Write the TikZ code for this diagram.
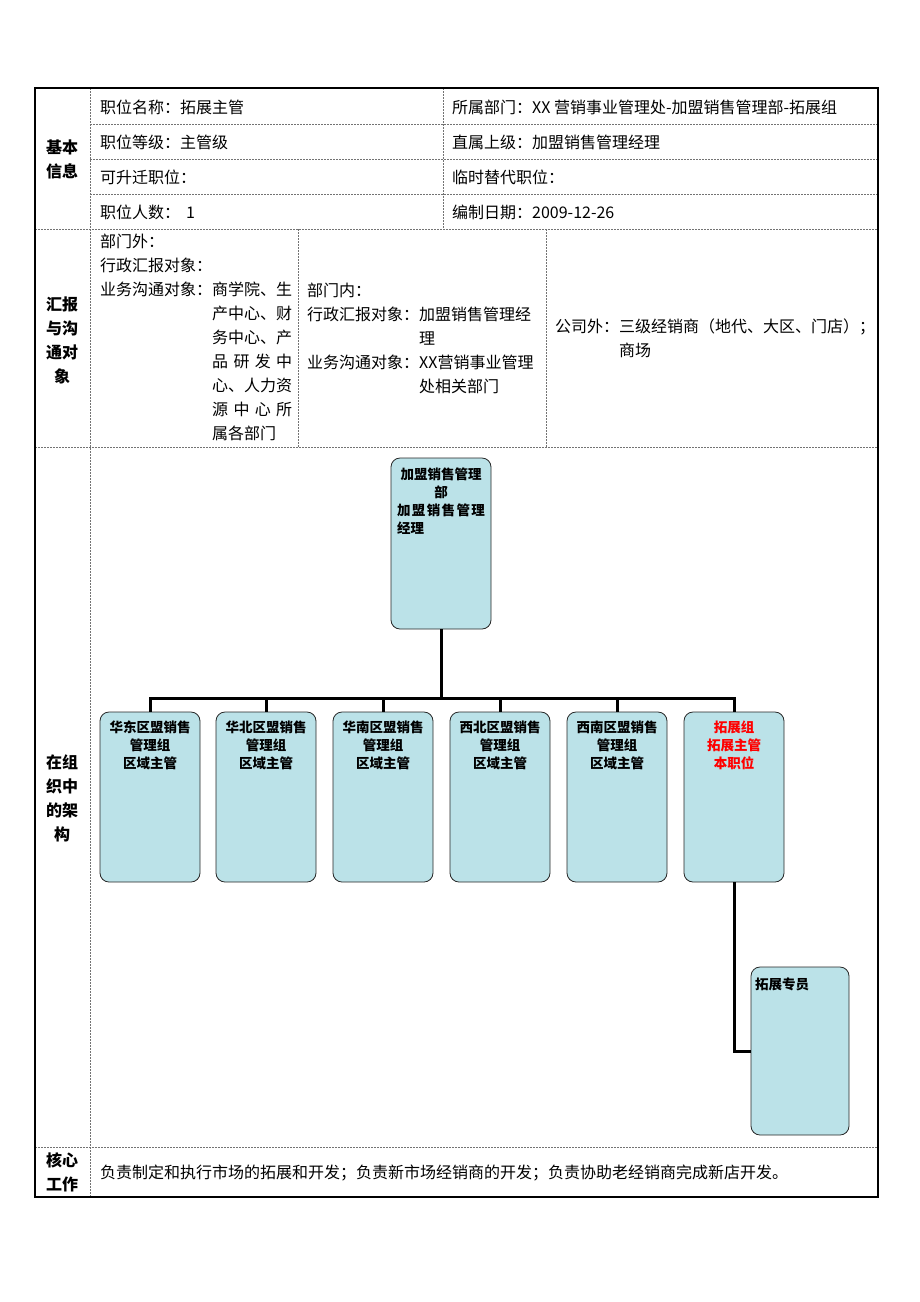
\documentclass[tikz,border=0pt]{standalone}
\usepackage{fontspec}
\setmainfont{Noto Sans CJK SC}
\usetikzlibrary{positioning,calc}
\definecolor{boxblue}{RGB}{187,226,232}

\begin{document}
\begin{tikzpicture}[x=1pt, y=-1pt,
	grid/.style = {black!55, line width=0.6pt, dash pattern=on 2pt off 1pt},
	txt/.style = {inner sep=0pt, anchor=west, font=\fontsize{16}{24}\selectfont},
	para/.style = {inner sep=0pt, anchor=north west, align=left, font=\fontsize{16}{24}\selectfont},
	head/.style = {inner sep=0pt, align=center, font=\fontsize{16}{24}\selectfont\bfseries},
	box/.style = {draw=black!85, line width=0.8pt, fill=boxblue, rounded corners=9pt,
		minimum width=100pt, minimum height=170pt, inner sep=0pt},
	boxtxt/.style = {inner sep=0pt, anchor=north, align=center, font=\fontsize{13.5}{18}\selectfont\bfseries},
	conn/.style = {line width=3pt}
]
\useasboundingbox (0,0) rectangle (920,1302);

% table
\foreach \y in {124,159,194} \draw [grid] (90,\y) -- (878,\y);
\foreach \y in {229,447,1147} \draw [grid] (35,\y) -- (878,\y);
\draw [grid] (90,88) -- (90,1197);
\draw [grid] (443,88) -- (443,229);
\draw [grid] (298,229) -- (298,447);
\draw [grid] (546,229) -- (546,447);
\draw [line width=2.5pt] (35,88) rectangle (878,1197);

% basic info
\node [head] (jiben) at (62,159) {基本\\信息};
\node [txt] (mingcheng) at (100,107) {职位名称：拓展主管};
\node [txt] (dengji) at (100,142) {职位等级：主管级};
\node [txt] (shengqian) at (100,177) {可升迁职位：};
\node [txt] (renshu) at (100,212) {职位人数：\hspace{6pt}1};
\node [txt] (bumen) at (452,107) {所属部门：XX 营销事业管理处-加盟销售管理部-拓展组};
\node [txt] (shangji) at (452,142) {直属上级：加盟销售管理经理};
\node [txt] (tidai) at (452,177) {临时替代职位：};
\node [txt] (riqi) at (452,212) {编制日期：2009-12-26};

% reporting
\node [head] (huibao) at (62,340) {汇报\\与沟\\通对\\象};
\node [para] (waibu) at (100,234) {部门外：\\行政汇报对象：\\业务沟通对象：商学院、生\\
	\hspace*{7em}产中心、财\\\hspace*{7em}务中心、产\\
	\hspace*{7em}\makebox[5em][s]{品\hfil 研\hfil 发\hfil 中}\\\hspace*{7em}心、人力资\\
	\hspace*{7em}\makebox[5em][s]{源\hfil 中\hfil 心\hfil 所}\\\hspace*{7em}属各部门};
\node [para] (neibu) at (307,283) {部门内：\\行政汇报对象：加盟销售管理经\\\hspace*{7em}理\\
	业务沟通对象：XX营销事业管理\\\hspace*{7em}处相关部门};
\node [para] (gongsi) at (555,319) {公司外：三级经销商（地代、大区、门店）；\\\hspace*{4em}商场};

% organisation
\node [head] (jiagou) at (62,798) {在组\\织中\\的架\\构};
\begin{scope}
	\node [box, minimum height=171pt] (top) at (441,543.5) {};
	\node [boxtxt] (top-t) at (441,468) {加盟销售管理\\部\\
		\makebox[88pt][s]{加\hfil 盟\hfil 销\hfil 售\hfil 管\hfil 理}\\\makebox[88pt][l]{经理}};

	\foreach \n/\x/\reg in {b1/150/华东, b2/266/华北, b3/383/华南, b4/500/西北, b5/617/西南} {
		\node [box] (\n) at (\x,797) {};
		\node [boxtxt] (\n-t) at (\x,721) {\reg 区盟销售\\管理组\\区域主管};
	}
	\node [box] (b6) at (734,797) {};
	\node [boxtxt, text=red] (b6-t) at (734,721) {拓展组\\拓展主管\\本职位};
	\node [box, minimum width=98pt, minimum height=168pt] (b7) at (800,1051) {};
	\node [boxtxt, anchor=west] (b7-t) at (755,984) {拓展专员};

	\coordinate (bus) at (441,698);
	\draw [conn] (top.south) -- (bus);
	\draw [conn] (b1.north) |- (bus) -| (b6.north);
	\foreach \n in {b2,b3,b4,b5} \draw [conn] (\n.north) -- (\n.north |- bus);
	\draw [conn] (b6.south) |- (b7.west);
\end{scope}

% core work
\node [head] (hexin) at (62,1172.5) {核心\\工作};
\node [txt] (zhize) at (100,1173) {负责制定和执行市场的拓展和开发；负责新市场经销商的开发；负责协助老经销商完成新店开发。};
\end{tikzpicture}
\end{document}
